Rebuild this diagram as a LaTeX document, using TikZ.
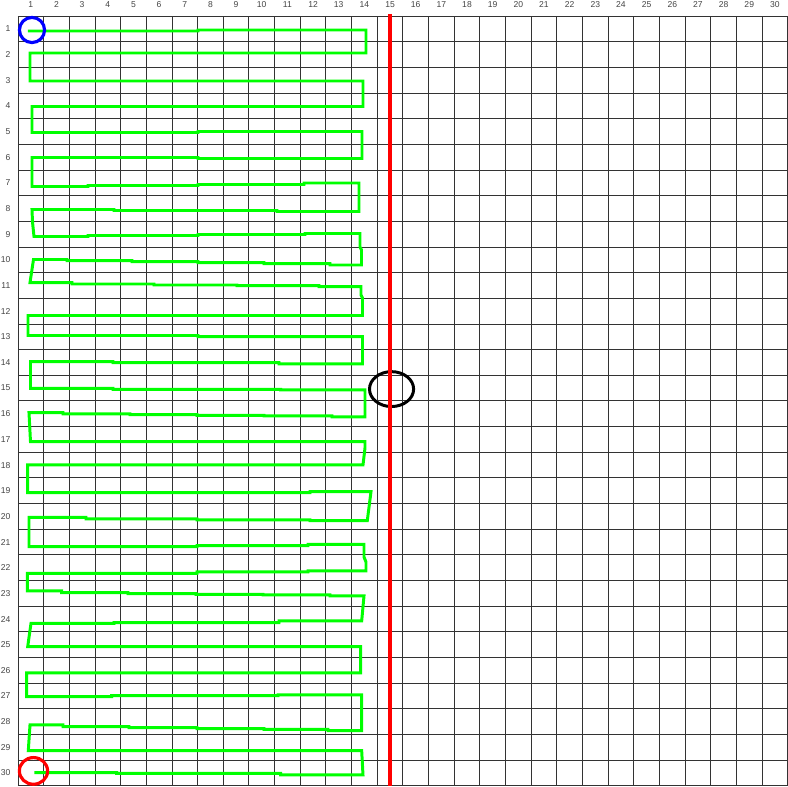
\documentclass[tikz,border=0pt]{standalone}
\usepackage{fontspec}
\setmainfont{Liberation Sans}
\usepackage{xcolor}
\usepackage{tikz}
\usetikzlibrary{calc}

\definecolor{gridgray}{HTML}{333333}
\definecolor{labelgray}{HTML}{444444}
\definecolor{pathgreen}{HTML}{00FF00}
\definecolor{markred}{HTML}{FF0000}
\definecolor{markblue}{HTML}{0000FF}

\tikzset{
  gridline/.style={gridgray,line width=0.9pt},
  cell label/.style={labelgray,inner sep=0pt,font=\fontsize{9.5}{11}\selectfont},
  sweep/.style={pathgreen,line width=3.3pt,line join=miter},
  marker/.style={line width=3.5pt}
}

\begin{document}
\begin{tikzpicture}
  \useasboundingbox (-0.2,-30.51) rectangle (30.51,0.124);
  % grid of 30 x 30 cells
  \foreach \k in {0,...,30}{
    \draw[gridline] (\k+0.5,-0.5) -- (\k+0.5,-30.5);
    \draw[gridline] (0.5,-\k-0.5) -- (30.5,-\k-0.5);
  }
  % column and row numbers
  \foreach \k in {1,...,30}{
    \node[cell label] (col\k) at (\k,-0.07) {\k};
    \node[cell label,anchor=east] (row\k) at (0.21,-\k) {\k};
  }
  % swept path (hand drawn, pixel coordinates)
  \begin{scope}[shift={(-0.2cm,0.124cm)},x=0.038971cm,y=-0.038971cm]
    \draw[sweep] (28,31) -- (198,31) -- (198,30) -- (366,30)
      -- (366,53) -- (30,53)
      -- (30,81) -- (363,81)
      -- (363,106.5) -- (32,106.5)
      -- (32,132.5) -- (198,132.5) -- (198,131.5) -- (362,131.5)
      -- (362,158.5) -- (198,158.5) -- (198,157.5) -- (32,157.5)
      -- (32,186.5) -- (88,186.5) -- (88,185.5) -- (198,185.5) -- (198,184.5)
      -- (304,184.5) -- (304,183) -- (359,183)
      -- (359,211.5) -- (277,211.5) -- (277,210.5) -- (114,210.5) -- (114,209.5) -- (32,209.5)
      -- (32.5,222) -- (34,236.5) -- (88,236.5) -- (88,235.5) -- (198,235.5) -- (198,234.5)
      -- (305,234.5) -- (305,233.5) -- (360,233.5)
      -- (360,247) -- (361.5,250) -- (361.5,265) -- (330,265) -- (330,263.7) -- (264,263.7)
      -- (264,262.7) -- (198,262.7) -- (198,261.7) -- (132,261.7) -- (132,260.7)
      -- (67,260.7) -- (67,259.5) -- (33.5,259.5)
      -- (30,282.7) -- (72,282.7) -- (72,284) -- (154,284) -- (154,285) -- (237,285)
      -- (237,285.7) -- (319,285.7) -- (319,286.7) -- (361,286.7)
      -- (361,295) -- (362.5,298) -- (362.5,315.5) -- (28,315.5)
      -- (28,335.5) -- (198,335.5) -- (198,336.7) -- (362.5,336.7)
      -- (362.5,364) -- (279,364) -- (279,362.7) -- (113,362.7) -- (113,361.7) -- (30.5,361.7)
      -- (30.5,388.3) -- (113,388.3) -- (113,389.3) -- (280.7,389.3) -- (280.7,390) -- (365,390)
      -- (365,417) -- (332,417) -- (332,416) -- (264,416) -- (264,415.3) -- (197,415.3)
      -- (197,414.7) -- (130,414.7) -- (130,414) -- (63,414) -- (63,412.7) -- (29,412.7)
      -- (30.5,441.7) -- (365,441.7)
      -- (365,448) -- (363,465) -- (27.7,465)
      -- (27.7,492.7) -- (310,492.7) -- (310,491.7) -- (371,491.7)
      -- (367.3,520.7) -- (310,520.7) -- (310,520) -- (197,520) -- (197,519) -- (86,519)
      -- (86,517.3) -- (29,517.3)
      -- (29,546.7) -- (197,546.7) -- (197,545.7) -- (308,545.7) -- (308,544.5) -- (364,544.5)
      -- (364,557) -- (366,562) -- (366,571) -- (308,571) -- (308,572) -- (197,572)
      -- (197,573.3) -- (27.3,573.3)
      -- (27.3,591) -- (61.7,591) -- (61.7,592.7) -- (128,592.7) -- (128,593.7) -- (196,593.7)
      -- (196,594.5) -- (263,594.5) -- (263,595) -- (330,595) -- (330,596) -- (364,596)
      -- (361.7,621) -- (279,621) -- (279,622.7) -- (114,622.7) -- (114,623.3) -- (31,623.3)
      -- (27.7,646.7) -- (360.7,646.7)
      -- (360.7,673) -- (26.7,673)
      -- (26.7,696.7) -- (111.7,696.7) -- (111.7,695.7) -- (278,695.7) -- (278,695) -- (361.7,695)
      -- (361.7,730.7) -- (328,730.7) -- (328,729.5) -- (264,729.5) -- (264,728.7) -- (197,728.7)
      -- (197,727.7) -- (129,727.7) -- (129,726.7) -- (63,726.7) -- (63,725) -- (30,725)
      -- (28.3,750.7) -- (361.7,750.7)
      -- (363,775) -- (280.7,775) -- (280.7,773.5) -- (116.7,773.5) -- (116.7,772.7) -- (34.3,772.7);
  \end{scope}
  % target cell
  \draw[marker,black,line width=3.3pt] (15.06,-15.04) ellipse (0.86 and 0.68);
  % boundary column
  \draw[markred,line width=3.6pt] (15,-0.42) -- (15,-30.51);
  % start and end
  \draw[marker,markblue] (1.047,-1.045) circle (0.49);
  \draw[marker,markred] (1.105,-29.92) ellipse (0.55 and 0.52);
\end{tikzpicture}
\end{document}
